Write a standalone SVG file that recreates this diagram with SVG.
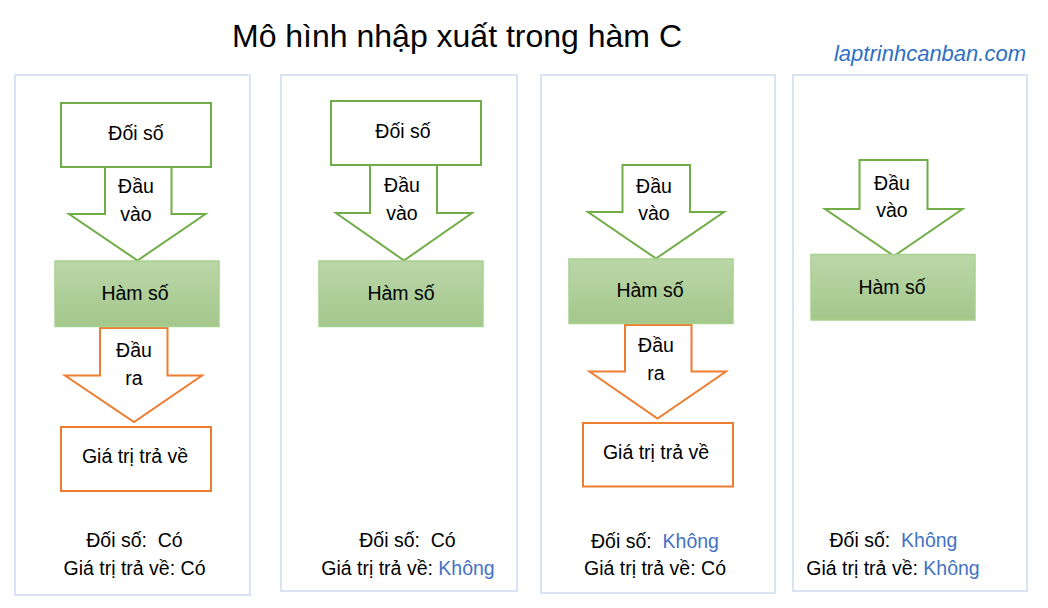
<svg xmlns="http://www.w3.org/2000/svg" width="1048" height="608" viewBox="0 0 1048 608">
<defs>
<linearGradient id="gf" x1="0" y1="0" x2="0" y2="1">
<stop offset="0" stop-color="#bad7a8"/>
<stop offset="1" stop-color="#a4c78c"/>
</linearGradient>
<style>
text{font-family:"Liberation Sans",Arial,sans-serif;font-size:19.5px;fill:#000;text-anchor:middle}
.panel{fill:#fff;stroke:#dae3f3;stroke-width:2}
.in{fill:#fff;stroke:#70ad47;stroke-width:2}
.fn{fill:url(#gf);stroke:#a9d18e;stroke-width:1.5}
.out{fill:#fff;stroke:#ed7d31;stroke-width:2}
.arr-in{fill:#fff;stroke:#70ad47;stroke-width:2;stroke-linejoin:miter}
.arr-out{fill:#fff;stroke:#ed7d31;stroke-width:2;stroke-linejoin:miter}
.blue{fill:#4472c4}
.title{font-size:32px}
.site{font-size:22px;font-style:italic;fill:#2e6fc4;text-anchor:end}
</style>
</defs>
<rect width="1048" height="608" fill="#fff"/>
<text class="title" x="457" y="47">Mô hình nhập xuất trong hàm C</text>
<text class="site" x="1026" y="61">laptrinhcanban.com</text>

<g id="panels">
<rect class="panel" x="15" y="75" width="235" height="520"/>
<rect class="panel" x="281" y="75" width="236" height="516"/>
<rect class="panel" x="541" y="75" width="234" height="518"/>
<rect class="panel" x="793" y="75" width="234" height="516"/>
</g>

<g id="connectors">
<g id="p1-in"><polygon class="arr-in" points="105,167 171.5,167 171.5,214 205.5,214 137.5,260.5 69,214 105,214"/><text x="136" y="193">Đầu</text><text x="136" y="221">vào</text></g>
<g id="p1-out"><polygon class="arr-out" points="100,328 167.5,328 167.5,375.5 202,375.5 134,422 65,375.5 100,375.5"/><text x="134" y="357">Đầu</text><text x="134" y="385">ra</text></g>
<g id="p2-in"><polygon class="arr-in" points="370,165 437,165 437,213 472,213 404,260.5 336,213 370,213"/><text x="402" y="192">Đầu</text><text x="402" y="219.5">vào</text></g>
<g id="p3-in"><polygon class="arr-in" points="622.5,165 690,165 690,212 724,212 656,258.5 588,212 622.5,212"/><text x="654" y="192.5">Đầu</text><text x="654" y="220">vào</text></g>
<g id="p3-out"><polygon class="arr-out" points="625,325 691.5,325 691.5,371.5 726,371.5 657.5,418.5 589.5,371.5 625,371.5"/><text x="656" y="352">Đầu</text><text x="656" y="380">ra</text></g>
<g id="p4-in"><polygon class="arr-in" points="859.5,160 927.5,160 927.5,209 962.5,209 894,256 825,209 859.5,209"/><text x="892" y="189.5">Đầu</text><text x="892" y="217">vào</text></g>
</g>

<g id="p1-arg"><rect class="in" x="61" y="103" width="150" height="64"/><text x="136" y="139.5">Đối số</text></g>
<g id="p1-fn"><rect class="fn" x="55" y="261" width="164" height="65.5"/><text x="135" y="300">Hàm số</text></g>
<g id="p1-ret"><rect class="out" x="61" y="427" width="150" height="64"/><text x="135" y="463">Giá trị trả về</text></g>
<g id="p1-note"><text x="134.5" y="547" xml:space="preserve">Đối số:  Có</text><text x="134.5" y="575">Giá trị trả về: Có</text></g>

<g id="p2-arg"><rect class="in" x="331" y="101" width="150" height="64"/><text x="403" y="137.5">Đối số</text></g>
<g id="p2-fn"><rect class="fn" x="319" y="261" width="164" height="65.5"/><text x="401" y="299.5">Hàm số</text></g>
<g id="p2-note"><text x="407.5" y="547" xml:space="preserve">Đối số:  Có</text><text x="408" y="575">Giá trị trả về: <tspan class="blue">Không</tspan></text></g>

<g id="p3-fn"><rect class="fn" x="569" y="259" width="164" height="64.5"/><text x="650" y="297">Hàm số</text></g>
<g id="p3-ret"><rect class="out" x="583" y="423" width="150" height="63.5"/><text x="656" y="458.5">Giá trị trả về</text></g>
<g id="p3-note"><text x="655" y="548" xml:space="preserve">Đối số:  <tspan class="blue">Không</tspan></text><text x="655" y="575">Giá trị trả về: Có</text></g>

<g id="p4-fn"><rect class="fn" x="811" y="254.5" width="164" height="65.5"/><text x="892" y="293.5">Hàm số</text></g>
<g id="p4-note"><text x="893.5" y="547" xml:space="preserve">Đối số:  <tspan class="blue">Không</tspan></text><text x="893" y="575">Giá trị trả về: <tspan class="blue">Không</tspan></text></g>
</svg>
